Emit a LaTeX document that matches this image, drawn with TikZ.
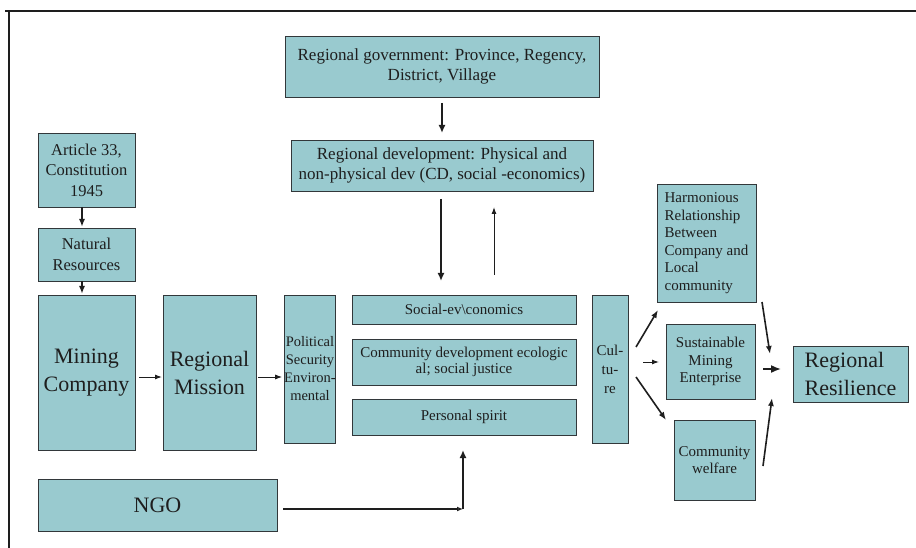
\documentclass[tikz,border=0pt]{standalone}
\usepackage{fontspec}
\setmainfont{Liberation Serif}
\usetikzlibrary{arrows.meta,calc}
\definecolor{boxfill}{RGB}{153,202,207}
\definecolor{boxline}{RGB}{50,55,58}
\definecolor{ink}{RGB}{30,30,30}
\tikzset{
  box/.style={draw=boxline, line width=0.9pt, fill=boxfill, inner sep=0pt, outer sep=0pt, align=center, text=ink},
  fsA/.style={font=\fontsize{17}{20}\selectfont},
  fsB/.style={font=\fontsize{16.5}{20.5}\selectfont},
  fsC/.style={font=\fontsize{15}{17.5}\selectfont},
  fsD/.style={font=\fontsize{22}{28}\selectfont},
  fsE/.style={font=\fontsize{15}{16}\selectfont},
  arrthin/.style={draw=ink, line width=1pt, -{Latex[length=7pt,width=5pt]}},
  arrmid/.style={draw=ink, line width=1.6pt, -{Latex[length=8pt,width=6pt]}},
  arrthick/.style={draw=ink, line width=2.4pt, -{Latex[length=8pt,width=7pt]}},
  frameline/.style={draw=ink, line width=2.2pt},
}
\begin{document}
\begin{tikzpicture}[x=1pt,y=-1pt]
\useasboundingbox (0,0) rectangle (916,548);
\fill[white] (0,0) rectangle (916,548);
% partial frame
\coordinate (fa) at (5,11);
\coordinate (fb) at (916,11);
\coordinate (fc) at (9,11);
\coordinate (fd) at (9,548);
\draw[frameline] (fa) -- (fb);
\draw[frameline] (fc) -- (fd);

% boxes
\node[box, fsA, minimum width=314pt, minimum height=61pt] (gov) at (442,66.5)
  {Regional government: Province, Regency,\\District, Village};
\node[box, fsA, minimum width=302pt, minimum height=51pt] (dev) at (442,165.5)
  {Regional development: Physical and\\non-physical dev (CD, social -economics)};
\node[box, fsB, minimum width=97pt, minimum height=74pt] (art) at (86.5,170)
  {Article 33,\\Constitution\\1945};
\node[box, fsB, minimum width=97pt, minimum height=53pt] (nat) at (86.5,254.5)
  {Natural\\Resources};
\node[box, fsD, minimum width=97pt, minimum height=155pt] (mc) at (86.5,372.5)
  {Mining\\Company};
\node[box, fsD, minimum width=93pt, minimum height=155pt] (rm) at (209.5,372.5)
  {Regional\\Mission};
\node[box, font=\fontsize{14.5}{18}\selectfont, minimum width=50pt, minimum height=148pt] (pol) at (310,369)
  {Political\\Security\\Environ-\\mental};
\node[box, fsC, minimum width=224pt, minimum height=29pt] (soc) at (464,309.5)
  {Social-ev\textbackslash conomics};
\node[box, fsE, minimum width=224pt, minimum height=46pt] (cd) at (464,362)
  {Community development ecologic\\al; social justice};
\node[box, fsC, minimum width=224pt, minimum height=36pt] (ps) at (464,417)
  {Personal spirit};
\node[box, font=\fontsize{15}{19}\selectfont, minimum width=36pt, minimum height=148pt] (cul) at (610,369)
  {Cul-\\tu-\\re};
\node[box, fsC, align=left, minimum width=99pt, minimum height=118pt] (har) at (706.5,243)
  {Harmonious\\Relationship\\Between\\Company and\\Local\\community};
\node[box, fsC, minimum width=89pt, minimum height=75pt] (sme) at (710.5,361.5)
  {Sustainable\\Mining\\Enterprise};
\node[box, fsC, minimum width=81pt, minimum height=80pt] (cw) at (714.5,460)
  {Community\\welfare};
\node[box, fsD, align=left, minimum width=115pt, minimum height=56pt] (rr) at (850.5,374)
  {Regional\\Resilience};
\node[box, fsD, minimum width=239pt, minimum height=52pt] (ngo) at (157.5,505)
  {NGO};

% arrows
\draw[arrthick] ($(gov.south)+(0,6)$) -- ($(dev.north)+(0,-7)$);
\draw[arrthick] ($(dev.south)+(-1,8)$) -- ($(soc.north)+(-23,-14)$);
\draw[arrthin] ($(soc.north)+(30,-20)$) -- ($(dev.south)+(52,16)$);
\draw[arrmid] ($(art.south)+(-4.5,0)$) -- ($(nat.north)+(-4.5,-1)$);
\draw[arrmid] ($(nat.south)+(-4.5,0)$) -- ($(mc.north)+(-4.5,-1)$);
\draw[arrthin] ($(mc.east)+(4,4.5)$) -- ($(rm.west)+(-1,4.5)$);
\draw[arrthin] ($(rm.east)+(2,4.5)$) -- ($(pol.west)+(-2,8)$);
\coordinate (corner) at (463,509);
\draw[draw=ink, line width=2.4pt, -{Latex[length=6pt,width=5pt,open]}] ($(ngo.east)+(6,4)$) -- (corner);
\draw[arrthick] (corner) -- ($(ps.south)+(-1,15)$);
\draw[arrmid] ($(cul.east)+(8,-22)$) -- ($(har.south west)+(1,8)$);
\draw[arrthin] ($(cul.east)+(15,-7)$) -- ($(sme.west)+(-7,0.5)$);
\draw[arrmid] ($(cul.east)+(8,8)$) -- ($(cw.north west)+(-8,0)$);
\draw[arrmid] ($(har.south east)+(6,0)$) -- ($(rr.west)+(-23,-20)$);
\draw[draw=ink, line width=1.6pt, -{Latex[length=10pt,width=8pt]}] ($(sme.east)+(8,7.5)$) -- ($(rr.west)+(-12,-5)$);
\draw[arrmid] ($(cw.east)+(8,6)$) -- ($(rr.west)+(-21,24)$);
\end{tikzpicture}
\end{document}
